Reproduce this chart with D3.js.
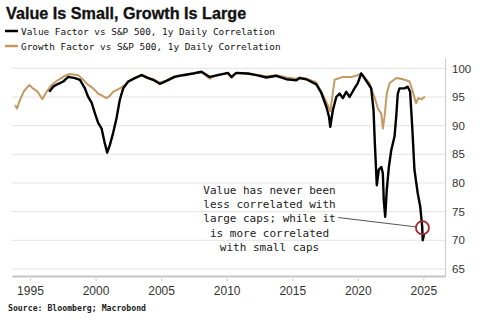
<!DOCTYPE html>
<html>
<head>
<meta charset="utf-8">
<script src="https://cdn.jsdelivr.net/npm/d3@7"></script>
<style>
  body { margin: 0; background: #fff; }
  svg { display: block; }
</style>
</head>
<body>
<div id="chart"></div>
<script>
// Value factor vs S&P 500, 1y daily correlation
const valueYears = [1996.47, 1996.77, 1997.16, 1997.54, 1997.92, 1998.43, 1998.81, 1999.19, 1999.44, 1999.70,
  1999.95, 2000.20, 2000.46, 2000.71, 2000.89, 2001.09, 2001.34, 2001.60, 2001.85, 2002.11,
  2002.49, 2003.00, 2003.51, 2004.01, 2004.39, 2004.90, 2005.41, 2006.04, 2006.68, 2007.44,
  2008.08, 2008.71, 2009.34, 2010.10, 2010.36, 2010.74, 2011.63, 2012.27, 2013.03, 2013.79,
  2014.55, 2015.31, 2015.56, 2016.07, 2016.84, 2017.22, 2017.60, 2017.80, 2017.90, 2018.10,
  2018.36, 2018.61, 2018.86, 2019.12, 2019.37, 2019.75, 2020.00, 2020.26, 2020.51, 2020.77,
  2021.02, 2021.20, 2021.30, 2021.45, 2021.60, 2021.79, 2021.91, 2021.98, 2022.09, 2022.21,
  2022.37, 2022.55, 2022.80, 2022.93, 2023.05, 2023.18, 2023.56, 2023.81, 2023.99, 2024.15,
  2024.32, 2024.57, 2024.76, 2024.91, 2024.95, 2025.05];
const valueCorr = [95.9, 96.8, 97.3, 97.7, 98.5, 98.3, 98.0, 96.5, 95.0, 94.0,
  92.2, 90.5, 89.5, 86.9, 85.3, 86.6, 88.7, 91.3, 94.5, 96.5,
  97.7, 98.3, 98.8, 98.3, 98.0, 97.3, 97.8, 98.5, 98.8, 99.1,
  99.4, 98.5, 98.8, 99.2, 98.5, 99.2, 99.1, 98.8, 98.4, 98.7,
  98.1, 97.9, 98.3, 98.1, 97.2, 95.7, 93.3, 91.6, 89.8, 92.7,
  95.0, 95.6, 94.8, 95.9, 95.0, 96.5, 97.4, 99.1, 98.3, 97.4,
  96.5, 92.7, 86.9, 79.6, 82.3, 82.8, 81.7, 77.0, 74.1, 78.8,
  82.8, 85.7, 88.1, 91.6, 95.6, 96.5, 96.5, 96.8, 95.9, 89.8,
  82.3, 78.2, 75.9, 72.4, 70.0, 71.0];

// Growth factor vs S&P 500, 1y daily correlation
const growthYears = [1993.86, 1994.01, 1994.24, 1994.54, 1994.95, 1995.23, 1995.59, 1995.94, 1996.27, 1996.65,
  1997.16, 1997.67, 1998.05, 1998.68, 1999.06, 1999.44, 1999.82, 2000.20, 2000.46, 2000.84,
  2001.09, 2001.34, 2001.85, 2002.24, 2002.49, 2003.00, 2003.50, 2004.00, 2004.40, 2004.90,
  2005.40, 2006.00, 2006.70, 2007.40, 2008.10, 2008.70, 2009.30, 2010.10, 2010.40, 2010.70,
  2011.60, 2012.30, 2013.00, 2013.80, 2014.60, 2015.30, 2015.60, 2016.10, 2016.80, 2017.20,
  2017.71, 2017.90, 2018.23, 2018.86, 2019.50, 2020.00, 2020.26, 2020.89, 2021.27, 2021.53,
  2021.79, 2021.91, 2022.04, 2022.21, 2022.42, 2022.93, 2023.44, 2023.95, 2024.20, 2024.44,
  2024.61, 2024.87, 2025.12];
const growthCorr = [93.6, 93.0, 94.5, 96.0, 97.1, 96.5, 95.9, 94.6, 95.9, 97.1,
  98.0, 98.7, 99.0, 98.8, 98.0, 97.1, 96.5, 95.6, 95.3, 94.8,
  95.2, 95.9, 96.5, 97.1, 97.6, 98.3, 98.9, 98.4, 98.1, 97.5,
  97.9, 98.6, 98.9, 99.1, 99.3, 98.2, 98.9, 99.1, 98.3, 99.2,
  99.0, 98.9, 98.6, 98.8, 98.4, 98.2, 98.4, 98.2, 97.6, 96.0,
  93.6, 92.5, 98.0, 98.5, 98.5, 98.8, 99.1, 97.4, 95.0, 93.0,
  92.1, 89.5, 91.6, 95.6, 97.4, 98.3, 98.1, 97.7, 95.9, 93.9,
  94.8, 94.6, 95.1];

const yearTicks = [1995, 2000, 2005, 2010, 2015, 2020, 2025];
const corrTicks = [65, 70, 75, 80, 85, 90, 95, 100];

const legendLabels = [
  "Value Factor vs S&P 500, 1y Daily Correlation",
  "Growth Factor vs S&P 500, 1y Daily Correlation"
];
const noteLines = [
  "Value has never been",
  "less correlated with",
  "large caps; while it",
  "is more correlated",
  "with small caps"
];
// point the note circles
const notePoint = [2024.93, 72.2];

const W = 500, H = 322;
const plot = {left: 12, right: 445, top: 58, bottom: 276};
const valueColor = "#000000", growthColor = "#c49a62";
const mono = "'DejaVu Sans Mono', 'Liberation Mono', monospace";
const sans = "'Liberation Sans', Arial, sans-serif";

const svg = d3.select("#chart").append("svg")
  .attr("width", W).attr("height", H);

const x = d3.scaleLinear()
  .domain([1993.63, 2026.65])
  .range([plot.left, plot.right]);
const y = d3.scaleLinear()
  .domain([63.77, 101.8])
  .range([plot.bottom, plot.top]);

// Title
svg.append("text")
  .attr("x", 6).attr("y", 19)
  .attr("font-family", sans).attr("font-weight", 900)
  .attr("font-size", 16.2).attr("fill", "#111")
  .attr("stroke", "#111").attr("stroke-width", 0.3)
  .text("Value Is Small, Growth Is Large");

// Legend
[valueColor, growthColor].forEach((c, i) => {
  const ly = 31 + i * 15;
  svg.append("line")
    .attr("x1", 5).attr("x2", 18).attr("y1", ly).attr("y2", ly)
    .attr("stroke", c).attr("stroke-width", 2.5);
  svg.append("text")
    .attr("x", 21).attr("y", ly + 3.5)
    .attr("font-family", mono).attr("font-size", 9.4)
    .attr("fill", "#111")
    .text(legendLabels[i]);
});

// Horizontal gridlines
svg.append("g")
  .selectAll("line")
  .data(corrTicks)
  .join("line")
    .attr("x1", plot.left).attr("x2", plot.right)
    .attr("y1", d => y(d)).attr("y2", d => y(d))
    .attr("stroke", "#e3e3e3").attr("stroke-width", 1);

// Right axis
const yAxis = svg.append("g")
  .attr("transform", `translate(${plot.right},0)`)
  .call(d3.axisRight(y).tickValues(corrTicks).tickSize(0).tickPadding(7));
yAxis.select(".domain").attr("stroke", "#cfcfcf").attr("stroke-width", 1.2);
yAxis.selectAll("text")
  .attr("font-family", sans).attr("font-size", 11.5).attr("fill", "#333");

// Bottom axis
const xAxis = svg.append("g")
  .attr("transform", `translate(0,${plot.bottom})`)
  .call(d3.axisBottom(x).tickValues(yearTicks).tickFormat(d3.format("d"))
    .tickSizeInner(5).tickSizeOuter(0).tickPadding(5));
xAxis.select(".domain").attr("stroke", "#c4c4c4").attr("stroke-width", 2);
xAxis.selectAll(".tick line").attr("stroke", "#d6d6d6");
xAxis.selectAll("text")
  .attr("font-family", sans).attr("font-size", 12).attr("fill", "#333");

// Series
const line = d3.line()
  .x(d => x(d[0]))
  .y(d => y(d[1]));

svg.append("path")
  .datum(d3.zip(growthYears, growthCorr))
  .attr("fill", "none")
  .attr("stroke", growthColor)
  .attr("stroke-width", 2)
  .attr("stroke-linejoin", "round")
  .attr("d", line);

svg.append("path")
  .datum(d3.zip(valueYears, valueCorr))
  .attr("fill", "none")
  .attr("stroke", valueColor)
  .attr("stroke-width", 2.4)
  .attr("stroke-linejoin", "round")
  .attr("d", line);

// Annotation
const cx = x(notePoint[0]), cy = y(notePoint[1]), r = 6.5;
svg.append("line")
  .attr("x1", 338).attr("y1", 217.5)
  .attr("x2", cx - r).attr("y2", cy - 0.8)
  .attr("stroke", "#555").attr("stroke-width", 1);
svg.append("circle")
  .attr("cx", cx).attr("cy", cy).attr("r", r)
  .attr("fill", "none")
  .attr("stroke", "#a8262b").attr("stroke-width", 1.8);

svg.append("g")
  .selectAll("text")
  .data(noteLines)
  .join("text")
    .attr("x", 269.5)
    .attr("y", (d, i) => 194 + i * 14.2)
    .attr("text-anchor", "middle")
    .attr("font-family", mono).attr("font-size", 11)
    .attr("fill", "#222")
    .text(d => d);

// Source
svg.append("text")
  .attr("x", 8).attr("y", 311)
  .attr("font-family", mono).attr("font-weight", "bold")
  .attr("font-size", 8.2).attr("fill", "#222")
  .text("Source: Bloomberg; Macrobond");
</script>
</body>
</html>
